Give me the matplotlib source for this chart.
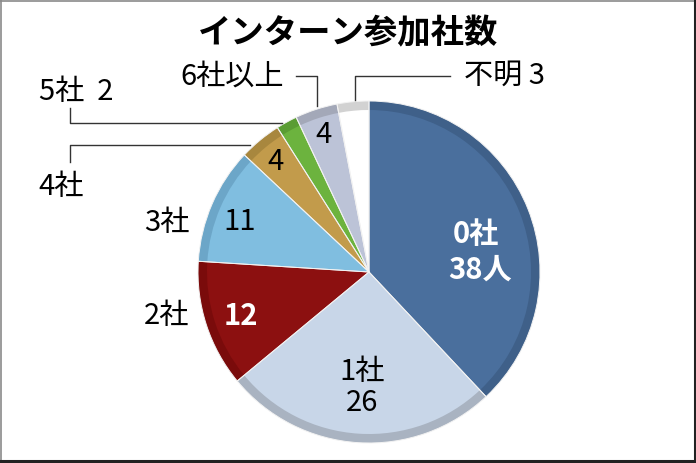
import matplotlib
matplotlib.use('Agg')
import matplotlib.pyplot as plt
from matplotlib.lines import Line2D

plt.rcParams['font.family'] = ['Noto Sans CJK JP', 'DejaVu Sans']

# data, clockwise from 12 o'clock
categories = ['0社', '1社', '2社', '3社', '4社', '5社', '6社以上', '不明']
counts = [38, 26, 12, 11, 4, 2, 4, 3]
face_colors = ['#4a6f9d', '#c8d6e8', '#8c1010', '#80bee0', '#c29b4b',
               '#6cb33e', '#bcc3d7', '#ffffff']
rim_colors = ['#3f6089', '#a9b3c1', '#7a0b0b', '#6ca6c8', '#a8873e',
              '#5a9c33', '#a3a8b8', '#d2d2d2']

W, H = 696, 463
fig = plt.figure(figsize=(W / 100, H / 100), dpi=100)
ax = fig.add_axes([0, 0, 1, 1])
fig.patch.set_facecolor('white')

cx, cy = 369, H - 272
R = 171

# outer ring (darker rim), inner face, then thin separators on top
ax.pie(counts, colors=rim_colors, startangle=90, counterclock=False,
       center=(cx, cy), radius=R, frame=True,
       wedgeprops=dict(linewidth=0))
ax.pie(counts, colors=face_colors, startangle=90, counterclock=False,
       center=(cx, cy), radius=R - 9, frame=True,
       wedgeprops=dict(linewidth=0))
ax.pie(counts, startangle=90, counterclock=False,
       center=(cx, cy), radius=R, frame=True,
       wedgeprops=dict(fill=False, edgecolor='#f2f2f2', linewidth=0.7))
ax.set_xlim(0, W)
ax.set_ylim(0, H)
ax.set_aspect('equal')
ax.axis('off')


def px(x, y):
    return x, H - y


fs = 21

# title
ax.text(*px(348, 34), 'インターン参加社数', fontsize=24, fontweight='bold',
        ha='center', va='center')

# labels inside wedges
ax.text(*px(476, 234), f'{categories[0]}', fontsize=fs, fontweight='bold',
        color='white', ha='center', va='center')
ax.text(*px(480, 270), f'{counts[0]}人', fontsize=fs, fontweight='bold',
        color='white', ha='center', va='center')
ax.text(*px(362, 372), categories[1], fontsize=fs, ha='center', va='center')
ax.text(*px(362, 403), str(counts[1]), fontsize=fs, ha='center', va='center')
ax.text(*px(241, 316), str(counts[2]), fontsize=fs, fontweight='bold',
        color='white', ha='center', va='center')
ax.text(*px(240, 222), str(counts[3]), fontsize=fs, ha='center', va='center')
ax.text(*px(275, 162), str(counts[4]), fontsize=fs, ha='center', va='center')
ax.text(*px(324, 135), str(counts[6]), fontsize=fs, ha='center', va='center')

# labels outside
ax.text(*px(167, 223), categories[3], fontsize=fs, ha='center', va='center')
ax.text(*px(167, 316), categories[2], fontsize=fs, ha='center', va='center')
ax.text(*px(61, 187), categories[4], fontsize=fs, ha='center', va='center')
ax.text(*px(76, 92), f'{categories[5]}  {counts[5]}', fontsize=fs,
        ha='center', va='center')
ax.text(*px(232, 77), categories[6], fontsize=fs, ha='center', va='center')
ax.text(*px(504, 76), f'{categories[7]} {counts[7]}', fontsize=fs,
        ha='center', va='center')

# leader lines
lc = '#333333'
leaders = [
    [(70, 108), (70, 123), (282, 123)],
    [(70, 162), (70, 145), (250, 145)],
    [(296, 76), (317, 76), (317, 106)],
    [(450, 76), (355, 76), (355, 100)],
]
for pts in leaders:
    xs = [p[0] for p in pts]
    ys = [H - p[1] for p in pts]
    ax.plot(xs, ys, color=lc, linewidth=1.0)

# frame around the graphic
fig.add_artist(Line2D([0.5 / W, 0.5 / W], [0, 1], color='#8a8a8a', lw=1.2))
fig.add_artist(Line2D([0, 1], [1 - 0.5 / H, 1 - 0.5 / H], color='#8a8a8a', lw=1.2))
fig.add_artist(Line2D([1 - 1.5 / W, 1 - 1.5 / W], [0, 1], color='#222222', lw=2.2))
fig.add_artist(Line2D([0, 1], [2 / H, 2 / H], color='#222222', lw=2.2))

fig.savefig('out.png', dpi=100)
